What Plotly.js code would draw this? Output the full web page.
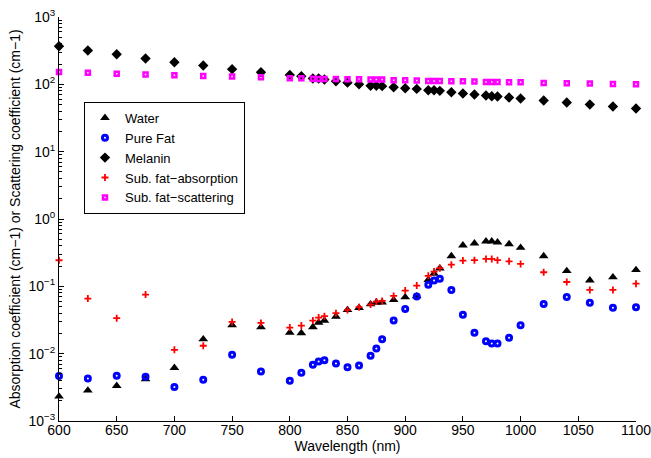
<!DOCTYPE html>
<html>
<head>
<meta charset="utf-8">
<script src="https://cdn.plot.ly/plotly-3.0.1.min.js"></script>
<style>html,body{margin:0;padding:0;background:#fff;}#chart{width:651px;height:458px;}</style>
</head>
<body>
<div id="chart"></div>
<script>
// Wavelengths (nm)
const wavelength = [600,625,650,675,700,725,750,775,800,810,820,825,830,840,850,860,870,875,880,890,900,910,920,925,930,940,950,960,970,975,980,990,1000,1020,1040,1060,1080,1100];

const water = [0.00232,0.00284,0.00333,0.00419,0.00617,0.0164,0.0265,0.0248,0.0206,0.0202,0.0248,0.029,0.031,0.0356,0.0447,0.0479,0.0543,0.0574,0.058,0.0628,0.069,0.0715,0.125,0.155,0.185,0.282,0.407,0.436,0.467,0.467,0.45,0.425,0.375,0.282,0.169,0.123,0.137,0.175];

const pureFat = [0.00465,0.00429,0.0047,0.00455,0.00319,0.00409,0.00962,0.00543,0.00395,0.0052,0.00684,0.00766,0.008,0.00715,0.0063,0.00667,0.0093,0.0119,0.0164,0.031,0.0462,0.0705,0.106,0.1217,0.13,0.0885,0.0377,0.0204,0.01535,0.01415,0.01415,0.0172,0.0265,0.0548,0.0697,0.0568,0.0479,0.049];

const melanin = [367,318,280,242,213,190,168,151,138,132,122,122,118,111,106,100,95.5,95,94,90.6,87.6,85.5,81.8,81.8,80,76.4,73,70.6,68.2,66.7,66,63.7,61.6,57.5,53.7,50.2,46.9,43.8];

const subFatAbs = [0.244,0.0658,0.0337,0.0754,0.0114,0.0131,0.0296,0.0286,0.0244,0.0261,0.031,0.0344,0.036,0.04,0.0447,0.049,0.0536,0.0593,0.0607,0.0721,0.0865,0.1026,0.143,0.1656,0.186,0.21,0.241,0.245,0.255,0.255,0.245,0.235,0.215,0.162,0.116,0.0885,0.0885,0.1097];

const subFatScat = [153,148,143,140,136.5,133,130.6,127.6,123,123,121,120,120,120.5,119,119,118,118,118,115,115,114,112.5,112.5,112.5,111,111,110,108.6,108.6,108.6,107.6,107.6,105,104,102.7,101.5,100.5];

const seriesNames = ['Water','Pure Fat','Melanin','Sub. fat\u2212absorption','Sub. fat\u2212scattering'];

const xTicks = [600,650,700,750,800,850,900,950,1000,1050,1100];
const yTickVals = [0.001,0.01,0.1,1,10,100,1000];
const yTickText = ['10<sup>\u22123</sup>','10<sup>\u22122</sup>','10<sup>\u22121</sup>','10<sup>0</sup>','10<sup>1</sup>','10<sup>2</sup>','10<sup>3</sup>'];

const minorVals = [];
for (let e = -3; e < 3; e++) for (let m = 2; m <= 9; m++) minorVals.push(m * Math.pow(10, e));

const FONT = 'Liberation Sans, Arial, Helvetica, sans-serif';

const traces = [
  {x: wavelength, y: water, name: seriesNames[0], mode: 'markers', type: 'scatter', cliponaxis: false,
   marker: {symbol: 'triangle-up', size: 8.5, color: '#000'}},
  {x: wavelength, y: pureFat, name: seriesNames[1], mode: 'markers', type: 'scatter', cliponaxis: false,
   marker: {symbol: 'circle-open', size: 5, color: '#0000ff', line: {width: 3, color: '#0000ff'}}},
  {x: wavelength, y: melanin, name: seriesNames[2], mode: 'markers', type: 'scatter', cliponaxis: false,
   marker: {symbol: 'diamond', size: 8, color: '#000'}},
  {x: wavelength, y: subFatAbs, name: seriesNames[3], mode: 'markers', type: 'scatter', cliponaxis: false,
   marker: {symbol: 'cross-thin-open', size: 5, color: '#ff0000', line: {width: 1.8, color: '#ff0000'}}},
  {x: wavelength, y: subFatScat, name: seriesNames[4], mode: 'markers', type: 'scatter', cliponaxis: false,
   marker: {symbol: 'square-open', size: 4, color: '#ff00ff', line: {width: 2.5, color: '#ff00ff'}}}
];

const layout = {
  width: 651, height: 458,
  margin: {l: 59, r: 15, t: 17, b: 37},
  paper_bgcolor: '#fff', plot_bgcolor: '#fff',
  font: {family: FONT, size: 14, color: '#000'},
  showlegend: true,
  legend: {x: 0.0433, y: 0.79, xanchor: 'left', yanchor: 'top', bgcolor: '#fff',
    bordercolor: '#000', borderwidth: 1, font: {family: FONT, size: 13, color: '#000'},
    tracegroupgap: 0, itemwidth: 30},
  xaxis: {
    range: [600, 1100.001], tickmode: 'array', tickvals: xTicks,
    showline: true, linecolor: '#000', linewidth: 1, mirror: false,
    ticks: 'inside', ticklen: 5, tickcolor: '#000', showgrid: false, zeroline: false,
    tickfont: {family: FONT, size: 14, color: '#000'}, ticklabelstandoff: -4, ticklabeloverflow: 'allow',
    title: {text: 'Wavelength (nm)', font: {family: FONT, size: 14, color: '#000'}, standoff: 0}
  },
  yaxis: {
    type: 'log', range: [-3, 3], tickmode: 'array', tickvals: yTickVals, ticktext: yTickText,
    showline: true, linecolor: '#000', linewidth: 1, mirror: false,
    ticks: 'inside', ticklen: 5, tickcolor: '#000', showgrid: false, zeroline: false,
    tickfont: {family: FONT, size: 14, color: '#000'}, ticklabeloverflow: 'allow',
    minor: {tickmode: 'array', tickvals: minorVals, ticks: 'inside', ticklen: 3, tickcolor: '#000', showgrid: false},
    title: {text: 'Absorption coefficient (cm\u22121) or Scattering coefficient (cm\u22121)', font: {family: FONT, size: 14, color: '#000'}, standoff: 4}
  }
};

Plotly.newPlot('chart', traces, layout, {displayModeBar: false, staticPlot: true});
</script>
</body>
</html>
